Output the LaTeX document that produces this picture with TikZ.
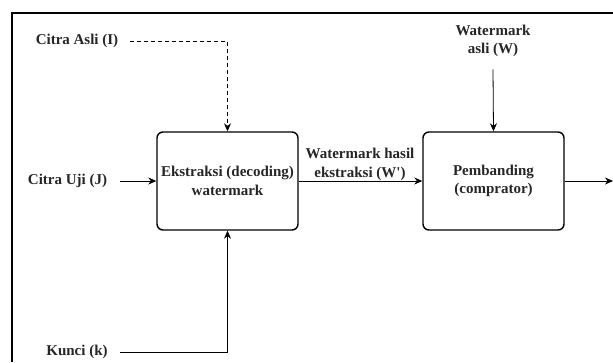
\documentclass[tikz,border=0pt]{standalone}
\usepackage{fontspec}
\setmainfont{Liberation Serif}
\usetikzlibrary{arrows.meta}
\definecolor{txt}{HTML}{262626}
\tikzset{
  x=1pt, y=1pt,
  lbl/.style={font=\fontsize{15}{18.5}\selectfont\bfseries, text=txt, inner sep=0pt, align=center},
  proc/.style={draw, line width=1.4pt, rounded corners=6pt, minimum width=141pt, minimum height=98pt, inner sep=0pt,
    font=\fontsize{15}{18.5}\selectfont\bfseries, text=txt, align=center},
  conn/.style={line width=0.8pt, -{Stealth[length=8pt,width=7pt]}},
}
\begin{document}
\begin{tikzpicture}
\useasboundingbox (0,0) rectangle (613,-362);
\draw[line width=2pt] (613,-13) -- (12,-13) -- (12,-362);

\node[proc] (box1) at (227.5,-181) {Ekstraksi (decoding)\\watermark};
\node[proc] (box2) at (493.5,-181) {Pembanding\\(comprator)};

\node[lbl] (asli) at (77,-41) {Citra Asli (I)};
\node[lbl] (uji) at (67.5,-181) {Citra Uji (J)};
\node[lbl] (kunci) at (77,-352) {Kunci (k)};
\node[lbl] (wasli) at (493,-41) {Watermark\\asli (W)};
\node[lbl] (wext) at (360,-164.5) {Watermark hasil\\ekstraksi (W\textquotesingle)};

\coordinate (out) at (613,-181);

\draw[conn, dash pattern=on 4pt off 3pt] ([xshift=12pt]asli.east) -| (box1.north);
\draw[conn] ([xshift=13pt]uji.east) -- (box1.west);
\draw[conn] ([xshift=12pt]kunci.east) -| (box1.south);
\draw[conn] (box1.east) -- (box2.west);
\draw[conn] ([yshift=-12pt]wasli.south) -- (box2.north);
\draw[conn] (box2.east) -- (out);
\end{tikzpicture}
\end{document}
